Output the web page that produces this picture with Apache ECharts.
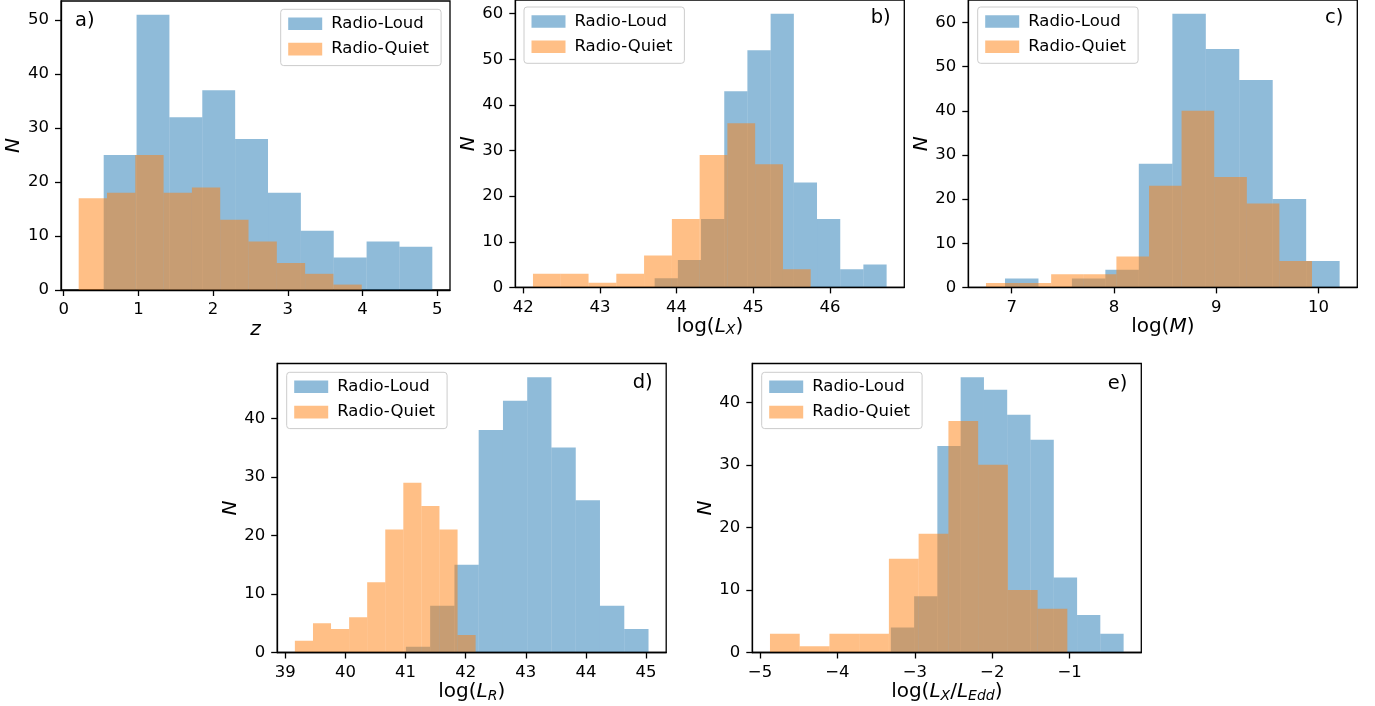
<!DOCTYPE html>
<html>
<head>
<meta charset="utf-8">
<script src="https://cdn.jsdelivr.net/npm/echarts@6/dist/echarts.min.js"></script>
<style>
html,body{margin:0;padding:0;background:#fff;}
#chart{width:1375px;height:706px;}
</style>
</head>
<body>
<div id="chart"></div>
<script>
// ---------------- DATA (histogram bin edges and counts) ----------------
const seriesNames = ['Radio-Loud', 'Radio-Quiet'];

// a) redshift z
const zLoudEdges   = [0.535, 0.975, 1.415, 1.855, 2.295, 2.735, 3.175, 3.615, 4.055, 4.495, 4.935];
const zLoudCounts  = [25, 51, 32, 37, 28, 18, 11, 6, 9, 8];
const zQuietEdges  = [0.200, 0.579, 0.958, 1.337, 1.716, 2.095, 2.474, 2.853, 3.232, 3.611, 3.990];
const zQuietCounts = [17, 18, 25, 18, 19, 13, 9, 5, 3, 1];

// b) log(L_X)
const lxLoudEdges   = [43.714, 44.017, 44.319, 44.622, 44.924, 45.227, 45.530, 45.832, 46.135, 46.437, 46.740];
const lxLoudCounts  = [2, 6, 15, 43, 52, 60, 23, 15, 4, 5];
const lxQuietEdges  = [42.127, 42.489, 42.852, 43.214, 43.576, 43.939, 44.301, 44.663, 45.025, 45.388, 45.750];
const lxQuietCounts = [3, 3, 1, 3, 7, 15, 29, 36, 27, 4];

// c) log(M)
const mLoudEdges   = [6.935, 7.262, 7.589, 7.916, 8.243, 8.571, 8.898, 9.225, 9.552, 9.879, 10.206];
const mLoudCounts  = [2, 0, 2, 4, 28, 62, 54, 47, 20, 6];
const mQuietEdges  = [6.749, 7.068, 7.386, 7.705, 8.024, 8.343, 8.661, 8.980, 9.299, 9.617, 9.936];
const mQuietCounts = [1, 1, 3, 3, 7, 23, 40, 25, 19, 6];

// d) log(L_R)
const lrLoudEdges   = [41.006, 41.409, 41.813, 42.216, 42.620, 43.023, 43.426, 43.830, 44.233, 44.637, 45.040];
const lrLoudCounts  = [1, 8, 15, 38, 43, 47, 35, 26, 8, 4];
const lrQuietEdges  = [39.160, 39.461, 39.761, 40.062, 40.362, 40.663, 40.963, 41.264, 41.564, 41.865, 42.165];
const lrQuietCounts = [2, 5, 4, 6, 12, 21, 29, 25, 21, 3];

// e) log(L_X/L_Edd)
const eddLoudEdges   = [-3.310, -3.009, -2.709, -2.408, -2.107, -1.807, -1.506, -1.205, -0.904, -0.604, -0.303];
const eddLoudCounts  = [4, 9, 33, 44, 42, 38, 34, 12, 6, 3];
const eddQuietEdges  = [-4.871, -4.487, -4.103, -3.719, -3.335, -2.951, -2.566, -2.182, -1.798, -1.414, -1.030];
const eddQuietCounts = [3, 1, 3, 3, 15, 19, 37, 30, 10, 7];

// tick labels
const zTicks   = [0, 1, 2, 3, 4, 5];
const lxTicks  = [42, 43, 44, 45, 46];
const mTicks   = [7, 8, 9, 10];
const lrTicks  = [39, 40, 41, 42, 43, 44, 45];
const eddTicks = [-5, -4, -3, -2, -1];
const nTicks50 = [0, 10, 20, 30, 40, 50];
const nTicks60 = [0, 10, 20, 30, 40, 50, 60];
const nTicks40 = [0, 10, 20, 30, 40];

const panelLetters = ['a)', 'b)', 'c)', 'd)', 'e)'];
const xNames = [
  '{i|z}',
  '{r|log(}{i|L}{s|X}{r|)}',
  '{r|log(}{i|M}{r|)}',
  '{r|log(}{i|L}{s|R}{r|)}',
  '{r|log(}{i|L}{s|X}{r|/}{i|L}{s|Edd}{r|)}'
];

// ---------------- STYLE / LAYOUT ----------------
const FONT = 'DejaVu Sans';
const BLUE = 'rgba(31,119,180,0.5)';
const ORANGE = 'rgba(255,127,14,0.5)';
const W = 389, H = 289;

const panels = [
  {loudE: zLoudEdges, loudC: zLoudCounts, quietE: zQuietEdges, quietC: zQuietCounts, xt: zTicks, yt: nTicks50,
   left: 61, top: 1, legendLeft: 280.7, legendTop: 9.3, letterLeft: 75, letterTop: 10.8, nameGap: 26.5},
  {loudE: lxLoudEdges, loudC: lxLoudCounts, quietE: lxQuietEdges, quietC: lxQuietCounts, xt: lxTicks, yt: nTicks60,
   left: 515.3, top: -1.6, legendLeft: 524, legendTop: 7, letterLeft: 870.7, letterTop: 8.3, nameGap: 28},
  {loudE: mLoudEdges, loudC: mLoudCounts, quietE: mQuietEdges, quietC: mQuietCounts, xt: mTicks, yt: nTicks60,
   left: 968.3, top: -1.6, legendLeft: 977.7, legendTop: 7, letterLeft: 1325, letterTop: 8.3, nameGap: 28.3},
  {loudE: lrLoudEdges, loudC: lrLoudCounts, quietE: lrQuietEdges, quietC: lrQuietCounts, xt: lrTicks, yt: nTicks40,
   left: 277.2, top: 363.5, legendLeft: 286.7, legendTop: 372.3, letterLeft: 632.7, letterTop: 373.3, nameGap: 26.7},
  {loudE: eddLoudEdges, loudC: eddLoudCounts, quietE: eddQuietEdges, quietC: eddQuietCounts, xt: eddTicks, yt: nTicks40,
   left: 752.3, top: 363.5, legendLeft: 761.7, legendTop: 372.3, letterLeft: 1107.7, letterTop: 374.3, nameGap: 26.7}
];

function toBins(edges, counts) {
  return counts.map((c, i) => [edges[i], edges[i + 1], c]);
}
function renderHist(params, api) {
  const a = api.coord([api.value(0), api.value(2)]);
  const b = api.coord([api.value(1), 0]);
  return {
    type: 'rect',
    shape: {x: a[0], y: a[1], width: b[0] - a[0], height: b[1] - a[1]},
    style: {fill: api.visual('color')}
  };
}
const minus = v => String(v).replace('-', '\u2212');

const richName = {
  r: {fontFamily: FONT, fontSize: 20, color: '#000', verticalAlign: 'middle'},
  i: {fontFamily: FONT, fontSize: 20, fontStyle: 'italic', color: '#000', verticalAlign: 'middle'},
  s: {fontFamily: FONT, fontSize: 14, fontStyle: 'italic', color: '#000', verticalAlign: 'middle', padding: [8, 0, 0, 0]}
};

const option = {
  animation: false,
  backgroundColor: '#fff',
  grid: [], xAxis: [], yAxis: [], series: [], legend: [], title: []
};

panels.forEach((p, k) => {
  const xmin = Math.min(p.loudE[0], p.quietE[0]);
  const xmax = Math.max(p.loudE[p.loudE.length - 1], p.quietE[p.quietE.length - 1]);
  const pad = 0.05 * (xmax - xmin);
  const ymax = 1.05 * Math.max(...p.loudC, ...p.quietC);

  option.grid.push({left: p.left, top: p.top, width: W, height: H, show: true,
    borderColor: '#000', borderWidth: 1.3, backgroundColor: 'transparent', containLabel: false});

  option.xAxis.push({
    type: 'value', gridIndex: k, min: xmin - pad, max: xmax + pad, z: 5,
    axisLine: {show: true, onZero: false, lineStyle: {color: '#000', width: 1.3}},
    axisTick: {show: true, length: 6, lineStyle: {color: '#000', width: 1.3}, customValues: p.xt},
    axisLabel: {show: true, margin: 11.5, fontFamily: FONT, fontSize: 16.5, color: '#000',
      customValues: p.xt, formatter: minus},
    splitLine: {show: false},
    name: xNames[k], nameLocation: 'middle', nameGap: p.nameGap,
    nameTextStyle: {fontFamily: FONT, fontSize: 20, color: '#000', rich: richName}
  });

  option.yAxis.push({
    type: 'value', gridIndex: k, min: 0, max: ymax, z: 5,
    axisLine: {show: true, onZero: false, lineStyle: {color: '#000', width: 1.3}},
    axisTick: {show: true, length: 6, lineStyle: {color: '#000', width: 1.3}, customValues: p.yt},
    axisLabel: {show: true, margin: 12, fontFamily: FONT, fontSize: 16.5, color: '#000', customValues: p.yt},
    splitLine: {show: false},
    name: 'N', nameLocation: 'middle', nameGap: 35.5, nameRotate: 90,
    nameTextStyle: {fontFamily: FONT, fontSize: 20, fontStyle: 'italic', color: '#000', lineHeight: 20}
  });

  option.series.push({
    type: 'custom', name: seriesNames[0], xAxisIndex: k, yAxisIndex: k,
    dimensions: ['x0', 'x1', 'n'], encode: {x: [0, 1], y: 2},
    itemStyle: {color: BLUE}, renderItem: renderHist, data: toBins(p.loudE, p.loudC), clip: true, z: 2
  });
  option.series.push({
    type: 'custom', name: seriesNames[1], xAxisIndex: k, yAxisIndex: k,
    dimensions: ['x0', 'x1', 'n'], encode: {x: [0, 1], y: 2},
    itemStyle: {color: ORANGE}, renderItem: renderHist, data: toBins(p.quietE, p.quietC), clip: true, z: 3
  });

  option.legend.push({
    data: seriesNames, orient: 'vertical', left: p.legendLeft, top: p.legendTop,
    padding: [5, 12, 7, 7.5], itemWidth: 34, itemHeight: 12.6, itemGap: 6.3, icon: 'rect',
    borderColor: '#cccccc', borderWidth: 1, borderRadius: 3, backgroundColor: 'rgba(255,255,255,0.8)',
    selectedMode: false, z: 6,
    textStyle: {fontFamily: FONT, fontSize: 16.5, color: '#000', lineHeight: 19, padding: [0, 0, 0, 4]}
  });

  option.title.push({
    text: panelLetters[k], left: p.letterLeft, top: p.letterTop, padding: 0,
    textStyle: {fontFamily: FONT, fontSize: 19.5, fontWeight: 'normal', color: '#000', lineHeight: 20}
  });
});

const chart = echarts.init(document.getElementById('chart'), null, {renderer: 'canvas'});
chart.setOption(option);
</script>
</body>
</html>
